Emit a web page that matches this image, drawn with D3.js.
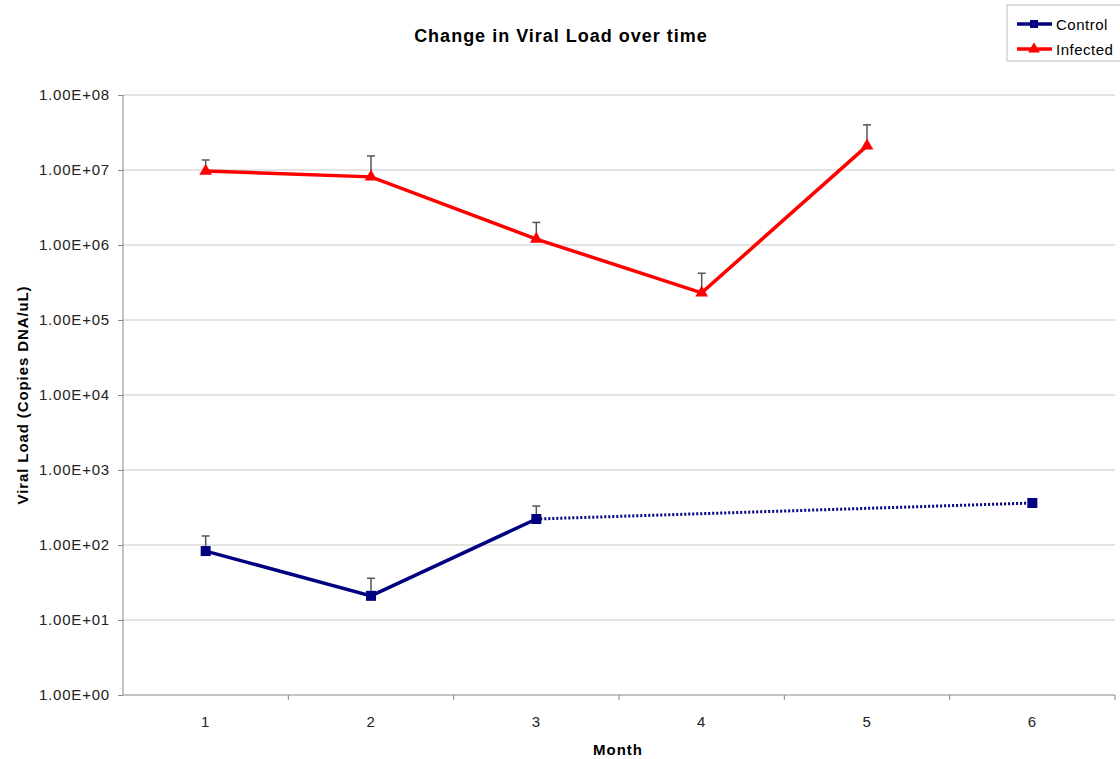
<!DOCTYPE html>
<html lang="en">
<head>
<meta charset="UTF-8">
<title>Change in Viral Load over time</title>
<script src="https://d3js.org/d3.v7.min.js"></script>
<style>
    body { margin: 0; background: white; }
    svg { display: block; font-family: "Liberation Sans", Arial, sans-serif; }
    .axis text { font-size: 15px; fill: #222; letter-spacing: 0.8px; }
    .axis path, .axis line { stroke: #888; }
    .grid line { stroke: #c8c8c8; }
</style>
</head>
<body>
<div id="container"></div>
<script>
    const months = [1, 2, 3, 4, 5, 6];
    const yTicks = [1e0, 1e1, 1e2, 1e3, 1e4, 1e5, 1e6, 1e7, 1e8];

    // Infected: months 1-5
    const infectedMonths = [1, 2, 3, 4, 5];
    const infectedValues = [9.7e6, 8.1e6, 1.2e6, 2.3e5, 2.1e7];
    const infectedErrTop = [1.36e7, 1.54e7, 2.0e6, 4.2e5, 4.0e7];

    // Control: months 1-3 measured, month 6 joined with dotted line
    const controlMonths = [1, 2, 3, 6];
    const controlValues = [83, 21, 222, 363];
    const controlErrTop = [132, 36, 331, null];

    const width = 1120, height = 759;
    const margin = {top: 95, right: 5, bottom: 64, left: 123};

    const svg = d3.select("#container").append("svg")
        .attr("width", width)
        .attr("height", height);

    const x = d3.scaleBand()
        .domain(months)
        .range([margin.left, width - margin.right]);
    const xc = d => x(d) + x.bandwidth() / 2;

    const y = d3.scaleLog()
        .domain([1, 1e8])
        .range([height - margin.bottom, margin.top]);

    // gridlines
    svg.append("g").attr("class", "grid")
        .selectAll("line")
        .data(yTicks.slice(1))
        .join("line")
        .attr("x1", margin.left)
        .attr("x2", width - margin.right)
        .attr("y1", d => y(d))
        .attr("y2", d => y(d));

    // y axis
    svg.append("g").attr("class", "axis")
        .attr("transform", `translate(${margin.left},0)`)
        .call(d3.axisLeft(y).tickValues(yTicks).tickSize(5).tickPadding(8)
            .tickFormat(d => "1.00E+" + String(Math.round(Math.log10(d))).padStart(2, "0")))
        .call(g => g.select(".domain").attr("d", `M0,${y(1e8)}V${y(1)}`));

    // x axis: ticks between categories
    const xAxisG = svg.append("g").attr("class", "axis")
        .attr("transform", `translate(0,${height - margin.bottom})`);
    xAxisG.append("line")
        .attr("x1", margin.left).attr("x2", width - margin.right)
        .attr("stroke", "#888");
    xAxisG.selectAll(".tk")
        .data(months)
        .join("line")
        .attr("x1", d => x(d) + x.bandwidth())
        .attr("x2", d => x(d) + x.bandwidth())
        .attr("y1", 0).attr("y2", 5)
        .attr("stroke", "#888");
    xAxisG.selectAll("text")
        .data(months)
        .join("text")
        .attr("x", d => xc(d))
        .attr("y", 32)
        .attr("text-anchor", "middle")
        .text(d => d);

    // titles
    svg.append("text")
        .attr("x", 561).attr("y", 42)
        .attr("text-anchor", "middle")
        .attr("font-size", "18px").attr("font-weight", "bold")
        .attr("letter-spacing", "1px")
        .text("Change in Viral Load over time");
    svg.append("text")
        .attr("x", 618).attr("y", 755)
        .attr("text-anchor", "middle")
        .attr("font-size", "15px").attr("font-weight", "bold")
        .attr("letter-spacing", "1px")
        .text("Month");
    svg.append("text")
        .attr("transform", `translate(28,395) rotate(-90)`)
        .attr("text-anchor", "middle")
        .attr("font-size", "15px").attr("font-weight", "bold")
        .attr("letter-spacing", "0.9px")
        .text("Viral Load (Copies DNA/uL)");

    const infected = infectedMonths.map((m, i) => ({m, v: infectedValues[i], e: infectedErrTop[i]}));
    const control = controlMonths.map((m, i) => ({m, v: controlValues[i], e: controlErrTop[i]}));

    const line = d3.line().x(d => xc(d.m)).y(d => y(d.v));

    // error bars (drawn behind the lines)
    function errorBars(data) {
        const g = svg.append("g").attr("stroke", "#555").attr("stroke-width", 1.5);
        const d2 = data.filter(d => d.e != null);
        g.selectAll(".v").data(d2).join("line")
            .attr("x1", d => xc(d.m)).attr("x2", d => xc(d.m))
            .attr("y1", d => y(d.v)).attr("y2", d => y(d.e));
        g.selectAll(".c").data(d2).join("line")
            .attr("x1", d => xc(d.m) - 4).attr("x2", d => xc(d.m) + 4)
            .attr("y1", d => y(d.e)).attr("y2", d => y(d.e));
    }
    errorBars(infected);
    errorBars(control);

    // control lines
    svg.append("path")
        .attr("d", line(control.slice(0, 3)))
        .attr("fill", "none").attr("stroke", "#000080").attr("stroke-width", 3.5);
    svg.append("path")
        .attr("d", line(control.slice(2)))
        .attr("fill", "none").attr("stroke", "#000080").attr("stroke-width", 3)
        .attr("stroke-dasharray", "2,2");
    svg.append("g").selectAll("rect")
        .data(control)
        .join("rect")
        .attr("x", d => xc(d.m) - 5).attr("y", d => y(d.v) - 5)
        .attr("width", 10).attr("height", 10)
        .attr("fill", "#000080");

    // infected line
    svg.append("path")
        .attr("d", line(infected))
        .attr("fill", "none").attr("stroke", "#ff0000").attr("stroke-width", 3.5);
    const tri = d3.symbol().type(d3.symbolTriangle).size(70);
    svg.append("g").selectAll("path")
        .data(infected)
        .join("path")
        .attr("d", tri)
        .attr("transform", d => `translate(${xc(d.m)},${y(d.v)})`)
        .attr("fill", "#ff0000");

    // legend
    const legend = svg.append("g").attr("transform", "translate(1007,5)");
    legend.append("rect")
        .attr("width", 120).attr("height", 56)
        .attr("fill", "white").attr("stroke", "#bbb");
    const items = [
        {name: "Control", color: "#000080", shape: "square"},
        {name: "Infected", color: "#ff0000", shape: "triangle"}
    ];
    const li = legend.selectAll(".item").data(items).join("g")
        .attr("transform", (d, i) => `translate(0,${19 + i * 25})`);
    li.append("line")
        .attr("x1", 10).attr("x2", 45)
        .attr("stroke", d => d.color).attr("stroke-width", 3.5);
    li.append("path")
        .attr("d", d => d.shape === "square"
            ? d3.symbol().type(d3.symbolSquare).size(64)()
            : d3.symbol().type(d3.symbolTriangle).size(60)())
        .attr("transform", "translate(27,0)")
        .attr("fill", d => d.color);
    li.append("text")
        .attr("x", 49).attr("y", 6)
        .attr("font-size", "15px")
        .attr("letter-spacing", "0.5px")
        .text(d => d.name);
</script>
</body>
</html>
